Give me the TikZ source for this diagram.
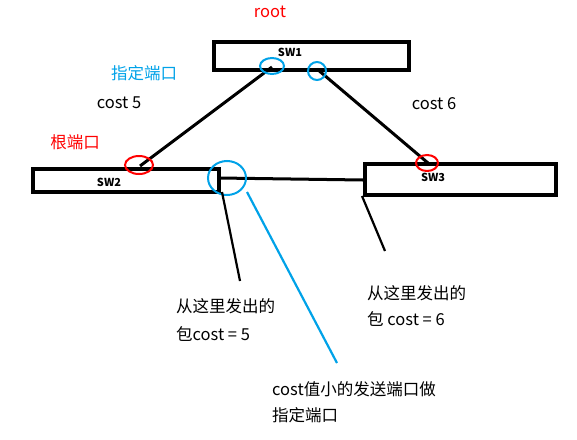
\documentclass[tikz,border=0pt]{standalone}
\usepackage{fontspec}
\setmainfont{Noto Sans CJK SC}
\newfontfamily\cjk{Noto Sans CJK SC}
\begin{document}
\begin{tikzpicture}[x=1pt,y=-1pt,
  sw/.style={draw=black,line width=4pt,fill=white,inner sep=0pt,anchor=north west},
  link/.style={line width=3pt,black},
  bcirc/.style={draw=cyan!70!blue,line width=2pt},
  rcirc/.style={draw=red,line width=2pt},
  lbl/.style={font=\fontsize{16.5}{18}\selectfont,inner sep=0pt,anchor=west},
  swl/.style={font=\fontsize{11}{12}\selectfont\bfseries,inner sep=0pt}]
\useasboundingbox (0,0) rectangle (577,439);
\definecolor{myblue}{RGB}{0,162,232}
% boxes
\node[sw,minimum width=195,minimum height=28] (sw1) at (212,40) {};
\node[sw,minimum width=186,minimum height=23] (sw2) at (31,167) {};
\node[sw,minimum width=191,minimum height=31] (sw3) at (363,162) {};
\node[swl] (l1) at (290,52) {SW1};
\node[swl] (l2) at (109,182) {SW2};
\node[swl] (l3) at (433,177) {SW3};
% links
\coordinate (a1) at (272,67);
\coordinate (a2) at (140,166);
\coordinate (b1) at (317,69);
\coordinate (b2) at (428,163);
\coordinate (c1) at (219,178);
\coordinate (c2) at (363,180);
\draw[link] (a1) -- (a2);
\draw[link] (b1) -- (b2);
\draw[link] (c1) -- (c2);
\draw[line width=3pt] (219,167) -- (219,192);
% circles
\draw[bcirc,draw=myblue] (272,66) ellipse [x radius=12,y radius=8];
\draw[bcirc,draw=myblue] (317,71) ellipse [x radius=9,y radius=9];
\draw[bcirc,draw=myblue] (227,178) ellipse [x radius=19,y radius=17];
\draw[rcirc] (139,165) ellipse [x radius=14,y radius=9];
\draw[rcirc] (427,163) ellipse [x radius=11,y radius=8];
% pointer lines
\coordinate (p1) at (222,192);
\coordinate (p2) at (240,281);
\coordinate (q1) at (362,196);
\coordinate (q2) at (385,251);
\coordinate (r1) at (247,192);
\coordinate (r2) at (337,363);
\draw[line width=2.2pt] (p1) -- (p2);
\draw[line width=2.2pt] (q1) -- (q2);
\draw[line width=2.2pt,myblue] (r1) -- (r2);
% labels
\node[lbl,red,anchor=center] (t0) at (270,12) {root};
\node[lbl,myblue,anchor=center] (t1) at (144,73) {指定端口};
\node[lbl,anchor=center] (t2) at (119,103) {cost 5};
\node[lbl,anchor=center] (t3) at (434,104) {cost 6};
\node[lbl,red,anchor=center] (t4) at (75,142) {根端口};
\node[lbl] (t5) at (176,306) {从这里发出的};
\node[lbl] (t6) at (176,334) {包cost = 5};
\node[lbl] (t7) at (367,293) {从这里发出的};
\node[lbl] (t8) at (367,319) {包 cost = 6};
\node[lbl] (t9) at (272,389) {cost值小的发送端口做};
\node[lbl] (t10) at (272,415) {指定端口};
\end{tikzpicture}
\end{document}
